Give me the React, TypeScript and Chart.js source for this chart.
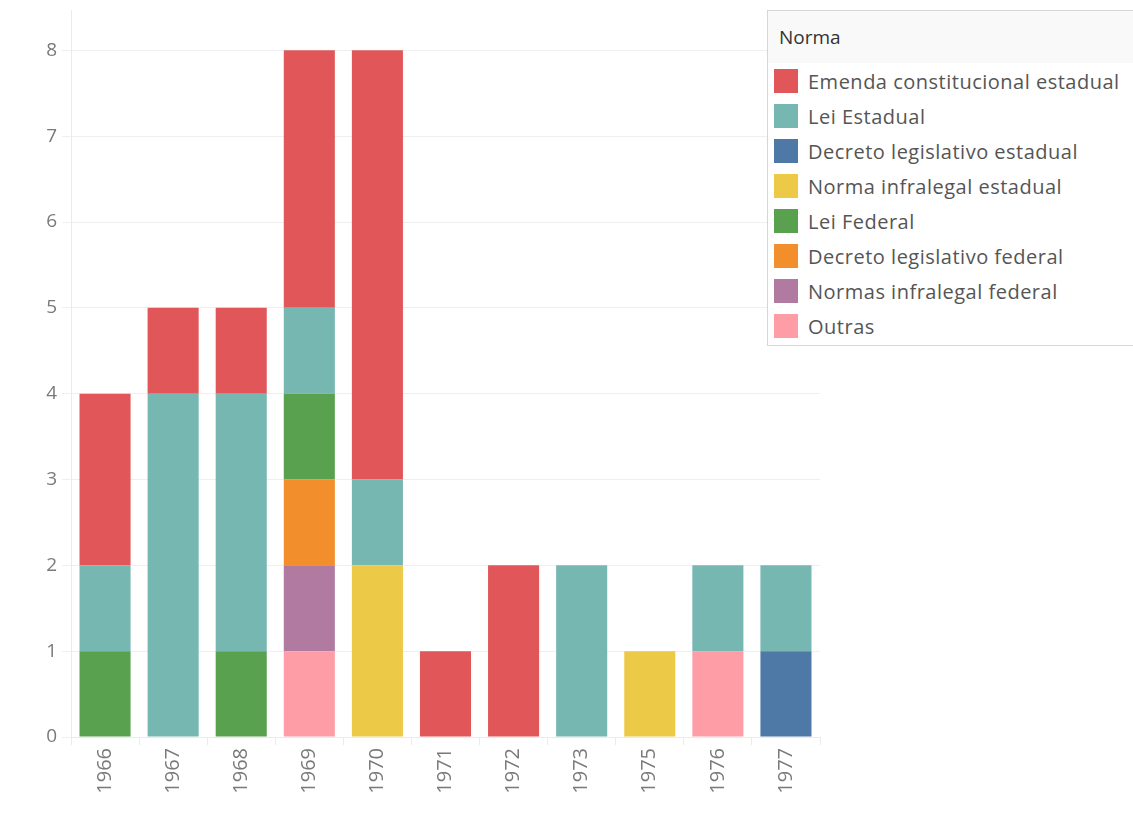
import React, { useEffect, useRef } from "react";
import { Chart, registerables } from "chart.js";

Chart.register(...registerables);

const years = ["1966", "1967", "1968", "1969", "1970", "1971", "1972", "1973", "1975", "1976", "1977"];

const seriesNames = [
  "Emenda constitucional estadual",
  "Lei Estadual",
  "Decreto legislativo estadual",
  "Norma infralegal estadual",
  "Lei Federal",
  "Decreto legislativo federal",
  "Normas infralegal federal",
  "Outras",
];

const seriesColors = ["#e15759", "#76b7b2", "#4e79a7", "#edc948", "#59a14f", "#f28e2b", "#b07aa1", "#ff9da7"];

const emendaConstitucionalEstadual = [2, 1, 1, 3, 5, 1, 2, 0, 0, 0, 0];
const leiEstadual = [1, 4, 3, 1, 1, 0, 0, 2, 0, 1, 1];
const decretoLegislativoEstadual = [0, 0, 0, 0, 0, 0, 0, 0, 0, 0, 1];
const normaInfralegalEstadual = [0, 0, 0, 0, 2, 0, 0, 0, 1, 0, 0];
const leiFederal = [1, 0, 1, 1, 0, 0, 0, 0, 0, 0, 0];
const decretoLegislativoFederal = [0, 0, 0, 1, 0, 0, 0, 0, 0, 0, 0];
const normasInfralegalFederal = [0, 0, 0, 1, 0, 0, 0, 0, 0, 0, 0];
const outras = [0, 0, 0, 1, 0, 0, 0, 0, 0, 1, 0];

const seriesValues = [
  emendaConstitucionalEstadual,
  leiEstadual,
  decretoLegislativoEstadual,
  normaInfralegalEstadual,
  leiFederal,
  decretoLegislativoFederal,
  normasInfralegalFederal,
  outras,
];

const yTicks = [0, 1, 2, 3, 4, 5, 6, 7, 8];

const FONT = "'Open Sans', sans-serif";

export default function App() {
  const canvasRef = useRef<HTMLCanvasElement | null>(null);

  useEffect(() => {
    if (!canvasRef.current) return;
    const datasets = seriesNames
      .map((name, i) => ({
        label: name,
        data: seriesValues[i],
        backgroundColor: seriesColors[i],
        borderWidth: 0,
        barPercentage: 0.75,
        categoryPercentage: 1,
      }))
      .reverse();

    const chart = new Chart(canvasRef.current, {
      type: "bar",
      data: { labels: years, datasets },
      options: {
        animation: false,
        responsive: false,
        maintainAspectRatio: false,
        layout: { padding: { top: 10, right: 10, left: 0, bottom: 0 } },
        plugins: { legend: { display: false }, tooltip: { enabled: false } },
        scales: {
          x: {
            stacked: true,
            afterFit: (s: any) => {
              s.height = 77;
              s.paddingLeft = 0;
              s.paddingRight = 0;
            },
            grid: {
              drawOnChartArea: false,
              drawTicks: true,
              offset: true,
              tickLength: 8,
              color: "#ebebeb",
            },
            border: { color: "#ebebeb" },
            ticks: {
              minRotation: 90,
              maxRotation: 90,
              padding: 3,
              color: "#7a7a7a",
              font: { family: FONT, size: 20 },
            },
          },
          y: {
            stacked: true,
            min: 0,
            max: 8.47,
            afterFit: (s: any) => {
              s.width = 71;
              s.paddingTop = 0;
              s.paddingBottom = 0;
            },
            afterBuildTicks: (s: any) => {
              s.ticks = yTicks.map((v) => ({ value: v }));
            },
            grid: { color: "#efefef", tickLength: 9 },
            border: { color: "#ebebeb" },
            ticks: {
              padding: 5,
              color: "#7a7a7a",
              font: { family: FONT, size: 19 },
            },
          },
        },
      },
    });
    return () => chart.destroy();
  }, []);

  return (
    <div style={{ position: "absolute", left: 0, top: 0, width: 1133, height: 814, background: "#fff", overflow: "hidden" }}>
      <canvas ref={canvasRef} width={830} height={814} style={{ position: "absolute", left: 0, top: 0 }} />
      <div
        style={{
          position: "absolute",
          left: 767,
          top: 10,
          width: 380,
          height: 336,
          border: "1px solid #d6d6d6",
          background: "#fff",
          fontFamily: FONT,
          boxSizing: "border-box",
        }}
      >
        <div
          style={{
            height: 52,
            background: "#f9f9f9",
            color: "#333",
            fontSize: 19,
            lineHeight: "52px",
            paddingLeft: 11,
          }}
        >
          Norma
        </div>
        {seriesNames.map((name, i) => (
          <div key={name} style={{ position: "absolute", left: 6, top: 58 + i * 35, height: 24, display: "flex", alignItems: "center" }}>
            <div style={{ width: 24, height: 24, background: seriesColors[i] }} />
            <div style={{ marginLeft: 10, fontSize: 20, letterSpacing: 0.5, color: "#555", whiteSpace: "nowrap" }}>{name}</div>
          </div>
        ))}
      </div>
    </div>
  );
}
